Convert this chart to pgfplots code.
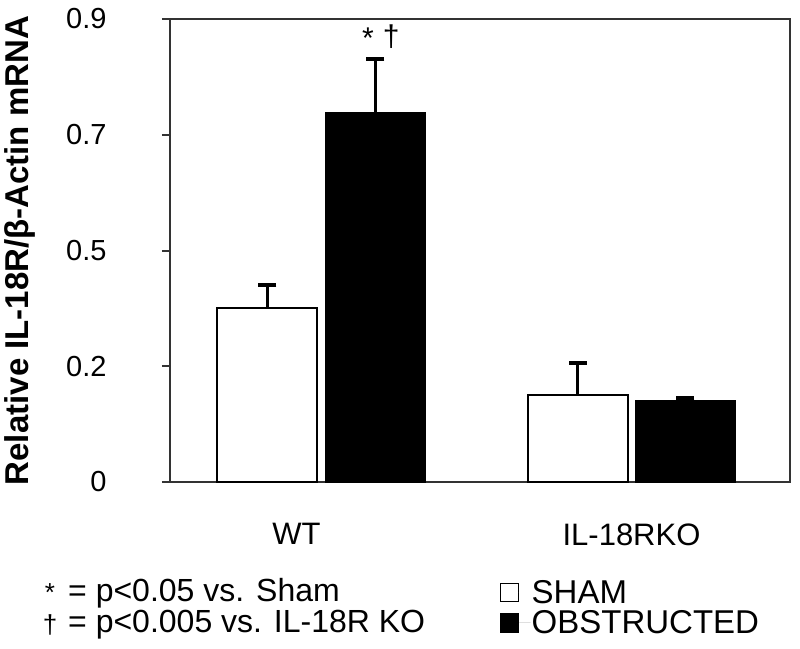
\documentclass[border=0pt]{standalone}
\usepackage{pgfplots}
\pgfplotsset{compat=1.18}
\usepackage{fontspec}
\setmainfont{Liberation Sans}
\definecolor{axgray}{HTML}{333333}
\begin{document}
\begin{tikzpicture}
\useasboundingbox (-170pt,-166pt) rectangle (630pt,482pt);
\begin{axis}[
  at={(0pt,0pt)}, anchor=south west,
  width=620pt, height=463pt, scale only axis,
  xmin=-0.488, xmax=1.511, ymin=0, ymax=0.9,
  axis line style={axgray, line width=2pt},
  ytick={0,0.225,0.45,0.675,0.9},
  yticklabels={0,0.2,0.5,0.7,0.9},
  ytick pos=left, tick align=outside,
  major tick length=8pt,
  every tick/.style={axgray, line width=2pt},
  xtick={-0.08,1}, xticklabels={WT,IL-18RKO},
  xtick style={draw=none},
  /pgf/number format/assume math mode=true,
  yticklabel style={font=\fontsize{29}{32}\selectfont, xshift=-52pt},
  xticklabel style={font=\fontsize{31}{34}\selectfont, yshift=-30pt},
  ylabel={Relative IL-18R/β-Actin mRNA},
  every axis y label/.append style={at={(axis description cs:-0.242,0.5)}, anchor=center, rotate=0, font=\bfseries\fontsize{33}{36}\selectfont},
  legend style={at={(axis description cs:0.527,-0.205)}, anchor=north west, draw=none, fill=none, font=\fontsize{33}{35}\selectfont, row sep=4pt,
    nodes={inner sep=1pt}},
  legend cell align=left,
  clip=false,
]
\addplot[ybar, bar width=0.3224, bar shift=0, fill=white, draw=black, line width=2pt,
  legend image code/.code={\draw[black, fill=white, line width=1.5pt] (0pt,-9pt) rectangle (18pt,9pt);\path[draw=none] (18pt,0pt) -- (30pt,0pt);},
  error bars/.cd, y dir=plus, y explicit, error mark=none,
  error bar style={line width=3pt, black}]
  coordinates {(-0.174,0.339) +- (0,0.044) (0.826,0.169) +- (0,0.063)};
\addlegendentry{SHAM}
\addplot[ybar, bar width=0.3224, bar shift=0, fill=black, draw=black, line width=1pt,
  legend image code/.code={\draw[black, fill=black, line width=1.5pt] (0pt,-9pt) rectangle (18pt,9pt);\path[draw=none] (18pt,0pt) -- (30pt,0pt);},
  error bars/.cd, y dir=plus, y explicit, error mark=none,
  error bar style={line width=3pt, black}]
  coordinates {(0.174,0.719) +- (0,0.103) (1.174,0.159) +- (0,0.005)};
\addlegendentry{OBSTRUCTED}
% error bar caps
\addplot[only marks, mark=-, mark size=9pt, mark options={line width=4pt, black}, forget plot]
  coordinates {(-0.174,0.383) (0.826,0.232) (0.174,0.822) (1.174,0.164)};
\node[font=\fontsize{30}{32}\selectfont] at (axis cs:0.1505,0.862) {*};
\node[font=\fontsize{30}{32}\selectfont] at (axis cs:0.225,0.865) {†};
\end{axis}
\node[anchor=west, inner sep=0pt, font=\fontsize{32}{34}\selectfont] at (-102pt,-111pt) {= p<0.05 vs. Sham};
\node[font=\fontsize{26}{28}\selectfont] at (-120pt,-111pt) {*};
\node[anchor=west, inner sep=0pt, font=\fontsize{32}{34}\selectfont] at (-102pt,-143pt) {= p<0.005 vs. IL-18R KO};
\node[font=\fontsize{26}{28}\selectfont] at (-120pt,-143pt) {†};
\end{tikzpicture}
\end{document}
